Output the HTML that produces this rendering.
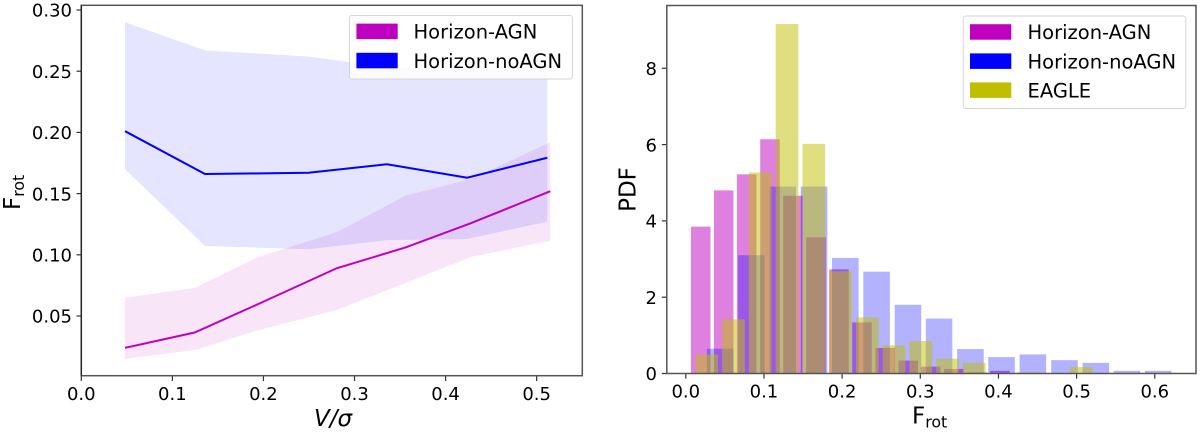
<!DOCTYPE html>
<html>
<head>
<meta charset="utf-8">
<style>
html,body{margin:0;padding:0;background:#fff;}
svg{display:block;filter:blur(0.35px);}
text{font-family:"DejaVu Sans","Liberation Sans",sans-serif;fill:#000;}
</style>
</head>
<body>
<svg id="fig" width="1200" height="434" viewBox="0 0 1200 434" xmlns="http://www.w3.org/2000/svg">
<rect width="1200" height="434" fill="#fff"/>
<g id="left"></g>
<g id="right"></g>
</svg>
<script>
// Left panel data
const agnX = [0.048, 0.1245, 0.195, 0.2804, 0.356, 0.4285, 0.515];
const agnLine = [0.024, 0.0365, 0.06, 0.089, 0.106, 0.126, 0.152];
const agnUpper = [0.065, 0.073, 0.0984, 0.1184, 0.1483, 0.162, 0.1919];
const agnLower = [0.015, 0.0222, 0.0386, 0.0549, 0.077, 0.0984, 0.1115];
const noAgnX = [0.048, 0.1358, 0.2495, 0.3357, 0.4237, 0.5117];
const noAgnLine = [0.201, 0.166, 0.167, 0.174, 0.163, 0.1793];
const noAgnUpper = [0.29, 0.267, 0.262, 0.253, 0.252, 0.25];
const noAgnLower = [0.17, 0.1072, 0.1045, 0.112, 0.1129, 0.127];
const leftXTicks = ["0.0", "0.1", "0.2", "0.3", "0.4", "0.5"];
const leftYTicks = ["0.05", "0.10", "0.15", "0.20", "0.25", "0.30"];

// Right panel data (histogram bin centres and PDF heights)
const histAgnX = [0.0191, 0.0485, 0.0779, 0.1077, 0.1371, 0.1665, 0.196, 0.2254, 0.2552, 0.2846, 0.3134, 0.343, 0.3726, 0.4019];
const histAgn = [3.85, 4.8, 5.22, 6.14, 4.66, 3.57, 2.73, 1.34, 0.67, 0.34, 0.18, 0.12, 0.03, 0.07];
const histNoAgnX = [0.044, 0.0839, 0.1241, 0.1641, 0.2041, 0.2441, 0.2842, 0.324, 0.3642, 0.404, 0.4441, 0.4845, 0.5246, 0.5644, 0.6044];
const histNoAgn = [0.65, 3.1, 4.9, 4.9, 3.03, 2.67, 1.8, 1.44, 0.64, 0.43, 0.5, 0.35, 0.28, 0.07, 0.07];
const histEagleX = [0.0268, 0.061, 0.0952, 0.1295, 0.1637, 0.1979, 0.2322, 0.2664, 0.3007, 0.3349, 0.3691, 0.4034, 0.4376, 0.4719, 0.5061];
const histEagle = [0.5, 1.42, 5.27, 9.16, 6.02, 2.68, 1.47, 0.74, 0.85, 0.39, 0.28, 0.01, 0.03, 0.01, 0.17];
const rightXTicks = ["0.0", "0.1", "0.2", "0.3", "0.4", "0.5", "0.6"];
const rightYTicks = ["0", "2", "4", "6", "8"];

const NS = 'http://www.w3.org/2000/svg';
const left = document.getElementById('left');
const right = document.getElementById('right');

function mk(parent, tag, attrs, txt) {
  const el = document.createElementNS(NS, tag);
  for (const k in attrs) el.setAttribute(k, attrs[k]);
  if (txt !== undefined) el.textContent = txt;
  parent.appendChild(el);
  return el;
}

// Axis functions
const lx = v => 81.3 + v * 910.7;
const ly = v => 316 - (v - 0.05) * 1224;
const rx = v => 685.8 + v * 781.6;
const ry = v => 373.5 - v * 38.15;

function pts(xs, ys, fx, fy) {
  return xs.map((x, i) => fx(x).toFixed(2) + ',' + fy(ys[i]).toFixed(2));
}
function band(xs, up, lo, fx, fy) {
  return pts(xs, up, fx, fy).concat(pts(xs, lo, fx, fy).reverse()).join(' ');
}

// ---------- Left panel ----------
const agnBand = mk(left, 'polygon', {points: band(agnX, agnUpper, agnLower, lx, ly), fill: '#bf00bf', 'fill-opacity': 0.1});


const noAgnBand = mk(left, 'polygon', {points: band(noAgnX, noAgnUpper, noAgnLower, lx, ly), fill: '#0000ff', 'fill-opacity': 0.1});


const agnPath = mk(left, 'polyline', {points: pts(agnX, agnLine, lx, ly).join(' '), fill: 'none', stroke: '#bf00bf', 'stroke-width': 2});


const noAgnPath = mk(left, 'polyline', {points: pts(noAgnX, noAgnLine, lx, ly).join(' '), fill: 'none', stroke: '#0000ff', 'stroke-width': 2});



leftXTicks.forEach(t => {
  const x = lx(parseFloat(t));
  const tick = mk(left, 'line', {x1: x, x2: x, y1: 375.7, y2: 381, stroke: '#333', 'stroke-width': 1.2});
  
  
  const lab = mk(left, 'text', {x: x, y: 400, 'text-anchor': 'middle', 'font-size': 18}, t);
  
  
});
leftYTicks.forEach(t => {
  const y = ly(parseFloat(t));
  const tick = mk(left, 'line', {x1: 76.5, x2: 81.3, y1: y, y2: y, stroke: '#333', 'stroke-width': 1.2});
  
  
  const lab = mk(left, 'text', {x: 72, y: y + 6.7, 'text-anchor': 'end', 'font-size': 18}, t);
  
  
});
const leftFrame = mk(left, 'rect', {x: 81.3, y: 5.3, width: 501, height: 370.4, fill: 'none', stroke: '#555', 'stroke-width': 1.5});


const leftSpine = mk(left, 'line', {x1: 81.3, x2: 81.3, y1: 5.3, y2: 375.7, stroke: '#222', 'stroke-width': 1.3});



const leftXTitle = mk(left, 'text', {x: 333, y: 426, 'text-anchor': 'middle', 'font-size': 23, 'font-style': 'italic'}, 'V/σ');


const leftYTitle = mk(left, 'text', {transform: 'translate(20,210) rotate(-90)', 'font-size': 23}, 'F');


mk(leftYTitle, 'tspan', {dy: 4.2, 'font-size': 15.8}, 'rot');

function legend(g, box, entries, textX, patchX, fs) {
  const r = mk(g, 'rect', {x: box[0], y: box[1], width: box[2], height: box[3], rx: 2.5, fill: '#fff', 'fill-opacity': 0.8, stroke: '#ccc', 'stroke-opacity': 0.8, 'stroke-width': 1});
  
  
  entries.forEach(e => {
    const p = mk(g, 'rect', {x: patchX, y: e[2] - 15, width: 41.3, height: 15.5, fill: e[1]});
    
    
    const t = mk(g, 'text', {x: textX, y: e[2], 'font-size': fs}, e[0]);
    
    
  });
}
legend(left, [349.5, 15.5, 223, 63.5], [['Horizon-AGN', '#bf00bf', 38.6], ['Horizon-noAGN', '#0000ff', 67.8]], 413.5, 356.4, 19.5);

// ---------- Right panel ----------
function bars(xs, hs, w, color, op, name) {
  xs.forEach((c, i) => {
    const b = mk(right, 'rect', {x: rx(c - w / 2), y: ry(hs[i]), width: rx(w) - rx(0), height: ry(0) - ry(hs[i]), fill: color, 'fill-opacity': op});
    
    
  });
}
bars(histAgnX, histAgn, 0.025, '#bf00bf', 0.5, 'bar-horizon-agn');
bars(histNoAgnX, histNoAgn, 0.034, '#0000ff', 0.3, 'bar-horizon-noagn');
bars(histEagleX, histEagle, 0.029, '#bfbf00', 0.5, 'bar-eagle');

rightXTicks.forEach(t => {
  const x = rx(parseFloat(t));
  const tick = mk(right, 'line', {x1: x, x2: x, y1: 373.5, y2: 378.6, stroke: '#333', 'stroke-width': 1.2});
  
  
  const lab = mk(right, 'text', {x: x, y: 397.3, 'text-anchor': 'middle', 'font-size': 18}, t);
  
  
});
rightYTicks.forEach(t => {
  const y = ry(parseFloat(t));
  const tick = mk(right, 'line', {x1: 661.8, x2: 666.8, y1: y, y2: y, stroke: '#333', 'stroke-width': 1.2});
  
  
  const lab = mk(right, 'text', {x: 657, y: y + 6.7, 'text-anchor': 'end', 'font-size': 18}, t);
  
  
});
const rightFrame = mk(right, 'rect', {x: 666.8, y: 5.5, width: 529.2, height: 368, fill: 'none', stroke: '#555', 'stroke-width': 1.5});



const rightXTitle = mk(right, 'text', {x: 912, y: 423.3, 'font-size': 23}, 'F');


mk(rightXTitle, 'tspan', {dy: 4.2, 'font-size': 15.8}, 'rot');
const rightYTitle = mk(right, 'text', {transform: 'translate(635.7,189.5) rotate(-90)', 'text-anchor': 'middle', 'font-size': 23}, 'PDF');



legend(right, [963.3, 16, 222.5, 92.5], [['Horizon-AGN', '#bf00bf', 39.2], ['Horizon-noAGN', '#0000ff', 68.4], ['EAGLE', '#bfbf00', 97.4]], 1027.5, 970, 19.5);
</script>
</body>
</html>
